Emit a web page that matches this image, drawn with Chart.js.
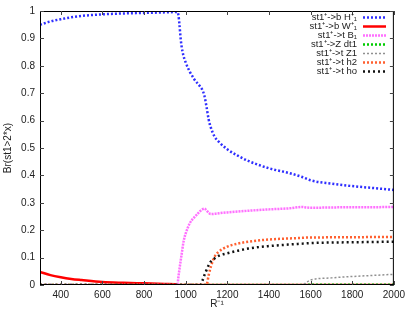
<!DOCTYPE html>
<html>
<head>
<meta charset="utf-8">
<script src="https://cdn.jsdelivr.net/npm/chart.js@4.4.1/dist/chart.umd.min.js"></script>
<style>
  html, body { margin: 0; padding: 0; background: #fff; }
  #wrap { width: 409px; height: 311px; }
</style>
</head>
<body>
<div id="wrap"><canvas id="brChart" width="409" height="311"></canvas></div>
<script>
// x grid (R^-1)
const rInv = [300, 350, 400, 450, 500, 600, 700, 800, 900, 950, 960, 965, 970, 975, 980, 990, 1000,
              1020, 1040, 1060, 1070, 1080, 1090, 1100, 1110, 1120, 1140, 1160, 1200, 1250, 1300,
              1400, 1500, 1560, 1580, 1600, 1700, 1800, 1900, 2000];

// branching ratios
const brBH = [0.950, 0.962, 0.970, 0.977, 0.982, 0.988, 0.991, 0.993, 0.995, 0.996, 0.996, 0.985, 0.950, 0.905, 0.872, 0.835, 0.812,
              0.778, 0.752, 0.733, 0.724, 0.712, 0.690, 0.650, 0.605, 0.576, 0.540, 0.522, 0.495, 0.472, 0.453,
              0.426, 0.408, 0.394, 0.388, 0.382, 0.370, 0.361, 0.354, 0.347];
const brBW = [0.048, 0.036, 0.028, 0.022, 0.018, 0.011, 0.008, 0.006, 0.004, 0.003, 0.002, 0.001, 0, 0, 0, 0, 0,
              0, 0, 0, 0, 0, 0, 0, 0, 0, 0, 0, 0, 0, 0,
              0, 0, 0, 0, 0, 0, 0, 0, 0];
const brTB = [0, 0, 0, 0, 0, 0, 0, 0, 0, 0, 0, 0.030, 0.058, 0.085, 0.110, 0.160, 0.188,
              0.226, 0.246, 0.262, 0.270, 0.276, 0.279, 0.272, 0.264, 0.259, 0.260, 0.262, 0.265, 0.268, 0.271,
              0.276, 0.280, 0.285, 0.283, 0.282, 0.283, 0.284, 0.284, 0.285];
const brZdt = [0, 0, 0, 0, 0, 0, 0, 0, 0, 0, 0, 0, 0, 0, 0, 0, 0,
               0, 0, 0, 0, 0, 0, 0, 0, 0, 0, 0, 0, 0, 0,
               0, 0, 0, 0.001, 0.001, 0.001, 0.001, 0.001, 0.001];
const brTZ = [0, 0, 0, 0, 0, 0, 0, 0, 0, 0, 0, 0, 0, 0, 0, 0, 0,
              0, 0, 0, 0, 0, 0, 0, 0, 0, 0, 0, 0, 0, 0,
              0, 0, 0, 0.010, 0.018, 0.026, 0.031, 0.035, 0.039];
const brTh2 = [0, 0, 0, 0, 0, 0, 0, 0, 0, 0, 0, 0, 0, 0, 0, 0, 0,
               0, 0, 0, 0, 0, 0, 0, 0.035, 0.065, 0.105, 0.122, 0.140, 0.151, 0.158,
               0.166, 0.170, 0.172, 0.173, 0.173, 0.174, 0.174, 0.175, 0.175];
const brTho = [0, 0, 0, 0, 0, 0, 0, 0, 0, 0, 0, 0, 0, 0, 0, 0, 0,
               0, 0, 0, 0, 0.015, 0.036, 0.055, 0.072, 0.085, 0.098, 0.107, 0.116, 0.125, 0.133,
               0.142, 0.148, 0.151, 0.152, 0.153, 0.155, 0.156, 0.157, 0.158];

const seriesLabels = ['st1⁺->b H⁺₁', 'st1⁺->b W⁺₁', 'st1⁺->t B₁', 'st1⁺->Z dt1', 'st1⁺->t Z1', 'st1⁺->t h2', 'st1⁺->t ho'];
const xTicks = [400, 600, 800, 1000, 1200, 1400, 1600, 1800, 2000];
const yTicks = [0, 0.1, 0.2, 0.3, 0.4, 0.5, 0.6, 0.7, 0.8, 0.9, 1];

const styles = [
    { color: '#2f2fff', width: 2.5, dash: [2, 2] },
    { color: '#ff0000', width: 2.5, dash: [] },
    { color: '#ff70ff', width: 2.5, dash: [2, 1] },
    { color: '#00cc00', width: 2.5, dash: [2, 2] },
    { color: '#909090', width: 1.5, dash: [2, 2] },
    { color: '#ff6030', width: 2.5, dash: [2, 2] },
    { color: '#111111', width: 2.5, dash: [2, 3] }
];
const allSeries = [brBH, brBW, brTB, brZdt, brTZ, brTh2, brTho];

const datasets = allSeries.map((vals, i) => ({
    label: seriesLabels[i],
    data: rInv.map((x, j) => ({ x: x, y: vals[j] })),
    borderColor: styles[i].color,
    borderWidth: styles[i].width,
    borderDash: styles[i].dash,
    pointRadius: 0,
    fill: false,
    cubicInterpolationMode: 'monotone',
    order: -i
}));

const fontFamily = '"Liberation Sans", Arial, sans-serif';

// frame, inward ticks and the gnuplot-style key
const framePlugin = {
    id: 'frame',
    afterDatasetsDraw(chart) {
        const { ctx, chartArea: a, scales } = chart;
        ctx.save();
        ctx.strokeStyle = '#000';
        ctx.lineWidth = 1;
        ctx.setLineDash([]);
        ctx.strokeRect(a.left + 0.5, a.top + 0.5, a.right - a.left - 1, a.bottom - a.top - 1);
        ctx.beginPath();
        xTicks.forEach(v => {
            const px = Math.round(scales.x.getPixelForValue(v)) + 0.5;
            ctx.moveTo(px, a.bottom); ctx.lineTo(px, a.bottom - 4);
            ctx.moveTo(px, a.top); ctx.lineTo(px, a.top + 4);
        });
        yTicks.forEach(v => {
            const py = Math.round(scales.y.getPixelForValue(v)) + 0.5;
            ctx.moveTo(a.left, py); ctx.lineTo(a.left + 4, py);
            ctx.moveTo(a.right, py); ctx.lineTo(a.right - 4, py);
        });
        ctx.strokeStyle = '#444';
        ctx.stroke();

        // key
        ctx.font = '9.5px ' + fontFamily;
        ctx.textAlign = 'right';
        ctx.textBaseline = 'middle';
        chart.data.datasets.forEach((ds, i) => {
            const y = 17 + i * 9;
            ctx.fillStyle = '#222';
            ctx.fillText(ds.label, 357, y);
            ctx.beginPath();
            ctx.strokeStyle = ds.borderColor;
            ctx.lineWidth = ds.borderWidth;
            ctx.setLineDash(ds.borderDash);
            ctx.moveTo(363, y + 0.5);
            ctx.lineTo(386, y + 0.5);
            ctx.stroke();
        });
        ctx.restore();
    }
};

new Chart(document.getElementById('brChart'), {
    type: 'line',
    data: { datasets: datasets },
    options: {
        responsive: false,
        animation: false,
        layout: { padding: { left: 0, right: 13, top: 10, bottom: 0 } },
        plugins: { legend: { display: false }, tooltip: { enabled: false } },
        scales: {
            x: {
                type: 'linear',
                min: 300,
                max: 2000,
                afterBuildTicks: s => { s.ticks = xTicks.map(v => ({ value: v })); },
                afterFit: s => { s.height = 26; },
                grid: { display: false, drawTicks: false },
                border: { display: false },
                ticks: { color: '#222', padding: 4, maxRotation: 0, callback: v => String(v), font: { size: 10, family: fontFamily } },
                title: { display: true, text: 'R⁻¹', color: '#222', padding: { top: 0, bottom: 1 }, font: { size: 10, family: fontFamily } }
            },
            y: {
                min: 0,
                max: 1,
                afterBuildTicks: s => { s.ticks = yTicks.map(v => ({ value: v })); },
                afterFit: s => { s.width = 40; },
                grid: { display: false, drawTicks: false },
                border: { display: false },
                ticks: { color: '#222', padding: 5, callback: v => String(Math.round(v * 10) / 10), font: { size: 10, family: fontFamily } },
                title: { display: true, text: 'Br(st1>2*x)', color: '#222', padding: { top: 2, bottom: 0 }, font: { size: 10, family: fontFamily } }
            }
        }
    },
    plugins: [framePlugin]
});
</script>
</body>
</html>
